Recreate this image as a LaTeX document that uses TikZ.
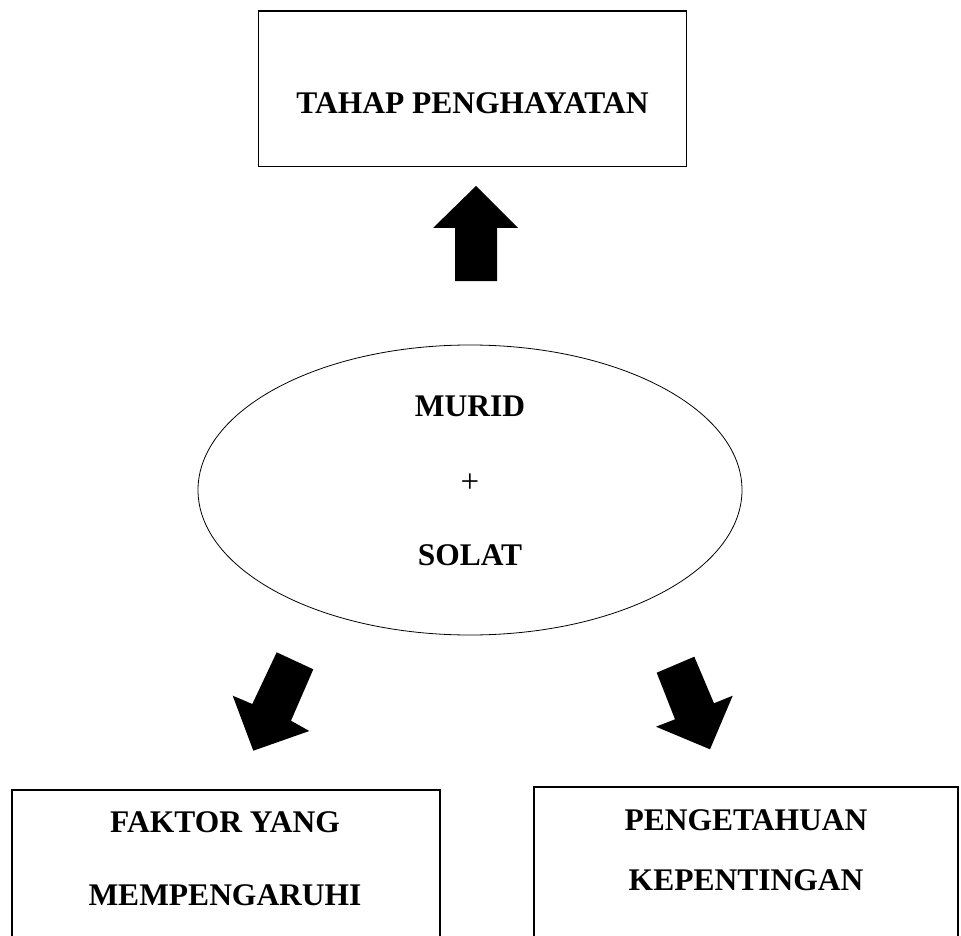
\documentclass[tikz,border=0pt]{standalone}
\usepackage{fontspec}
\setmainfont{Liberation Serif}
\begin{document}
\begin{tikzpicture}[x=1pt,y=-1pt,
  boxframe/.style={draw=black,line width=1.2pt,inner sep=0pt,outer sep=0pt},
  lbl/.style={anchor=base,inner sep=0pt,font=\fontsize{31.5}{38}\selectfont\bfseries},
  plus/.style={anchor=center,inner sep=0pt,font=\fontsize{33}{38}\selectfont},
  blockarrow/.style={fill=black,draw=none}]
\useasboundingbox (0,0) rectangle (961,936);
\clip (0,0) rectangle (961,936);
% boxes
\node[boxframe,minimum width=428pt,minimum height=155.5pt] (top) at (472.5,88.8) {};
\node[boxframe,minimum width=428pt,minimum height=160pt] (bl) at (226,870) {};
\node[boxframe,minimum width=424pt,minimum height=166pt] (br) at (746,870) {};
% ellipse
\draw[line width=0.8pt] (470,490) ellipse [x radius=272, y radius=145];
\coordinate (ell) at (470,490);
% texts
\node[lbl] (t1) at (472.5,113.5) {TAHAP PENGHAYATAN};
\node[lbl] (m1) at (470,416) {MURID};
\node[plus] (m2) at (470,483) {+};
\node[lbl] (m3) at (470,565) {SOLAT};
\node[lbl] (b1) at (225,832) {FAKTOR YANG};
\node[lbl] (b2) at (225,905) {MEMPENGARUHI};
\node[lbl] (c1) at (746,830) {PENGETAHUAN};
\node[lbl] (c2) at (746,890) {KEPENTINGAN};
% block arrows
\fill[blockarrow] (476,186) -- (518,228) -- (497,228) -- (497,281) -- (455,281) -- (455,228) -- (433,228) -- cycle;
\fill[blockarrow] (276.7,652.3) -- (313.3,669.3) -- (291,720.7) -- (309.3,731) -- (253.3,750.7) -- (232.7,695.7) -- (252.3,704) -- cycle;
\fill[blockarrow] (656.7,672.7) -- (694.3,656.7) -- (714,703.3) -- (732.7,695.7) -- (710,749.3) -- (656,726.7) -- (675,719.3) -- cycle;
\end{tikzpicture}
\end{document}
